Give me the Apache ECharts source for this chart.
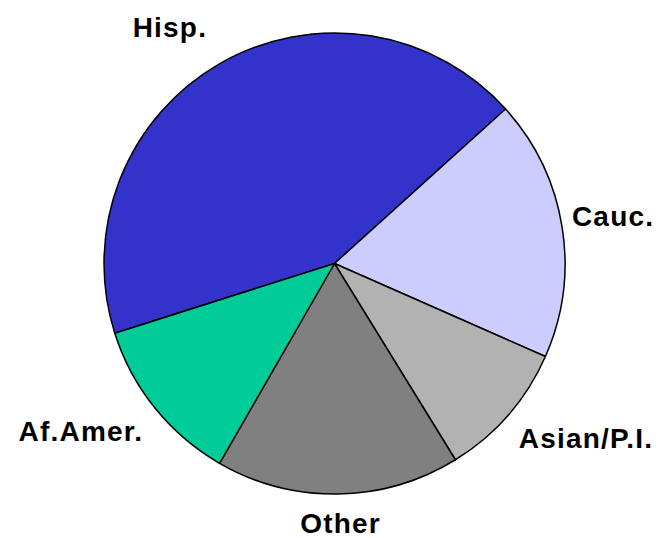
<!DOCTYPE html>
<html><head><meta charset="utf-8">
<script src="https://cdn.jsdelivr.net/npm/echarts@6/dist/echarts.min.js"></script>
<style>html,body{margin:0;padding:0;background:#fff}#chart{width:659px;height:538px}#chart text{letter-spacing:1.2px}</style>
</head><body><div id="chart"></div>
<script>
// Data
const categories = ['Hisp.', 'Cauc.', 'Asian/P.I.', 'Other', 'Af.Amer.'];
const values = [43.2, 18.3, 9.6, 17.1, 11.8];
const colors = ['#3333CC', '#CCCCFF', '#B2B2B2', '#808080', '#00CC99'];

// Layout / style
const START_ANGLE = 197.6;
const CENTER = [334.5, 263.5];
const RADIUS = 230.5;
const LABEL_GAPS = [25.5, 10, 14, 15.5, 15];   // distance of each label's anchor beyond the rim
const LETTER_SPACING = 1.2;
const FONT_SIZE = 28;

const total = values.reduce((a, b) => a + b, 0);
const midAngles = [];
let acc = 90 - START_ANGLE;
values.forEach(v => {
  const span = v / total * 360;
  midAngles.push((acc + span / 2) * Math.PI / 180);
  acc += span;
});
function clamp(v) { return Math.max(-1, Math.min(1, v)); }

const chart = echarts.init(document.getElementById('chart'), null, { renderer: 'svg' });
chart.setOption({
  animation: false,
  series: [{
    type: 'pie',
    center: CENTER,
    radius: RADIUS,
    startAngle: START_ANGLE,
    clockwise: true,
    avoidLabelOverlap: false,
    data: categories.map((n, i) => ({ name: n, value: values[i], itemStyle: { color: colors[i] } })),
    itemStyle: { borderColor: '#000', borderWidth: 1.5 },
    label: {
      show: true, position: 'outside', formatter: '{b}',
      fontFamily: '"Liberation Sans", Arial, sans-serif', fontWeight: 'bold',
      fontSize: FONT_SIZE, color: '#000'
    },
    labelLine: { show: false },
    emphasis: { disabled: true },
    labelLayout: function (p) {
      const i = p.dataIndex;
      const t = midAngles[i];
      const s = Math.sin(t), c = Math.cos(t);
      const hw = (p.labelRect.width + LETTER_SPACING * categories[i].length) / 2;
      const hh = FONT_SIZE / 2;
      const D = RADIUS + LABEL_GAPS[i];
      const ax = CENTER[0] + D * s, ay = CENTER[1] - D * c;
      return { x: ax + hw * clamp(4 * s), y: ay - hh * clamp(4 * c), align: 'center', verticalAlign: 'middle' };
    }
  }]
});
</script></body></html>
